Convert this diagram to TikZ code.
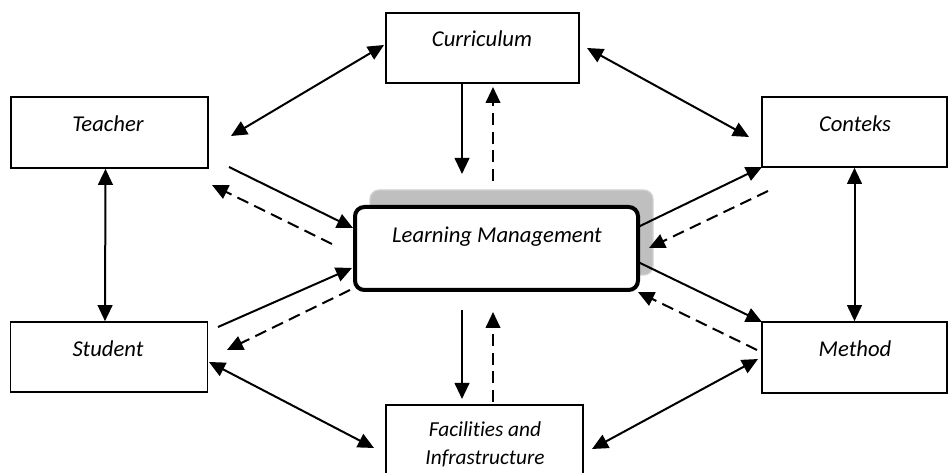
\documentclass[tikz,border=0pt]{standalone}
\usepackage{fontspec}
\setmainfont{Carlito}[Ligatures={NoCommon}]
\usetikzlibrary{arrows.meta}
\tikzset{
  box/.style={draw=black, line width=1.2pt, fill=white, inner sep=0pt},
  lbl/.style={font=\fontsize{17pt}{20pt}\selectfont\itshape, inner sep=0pt},
  conn/.style={line width=1.5pt, -{Triangle[length=12pt,width=11pt]}},
  dconn/.style={line width=1.5pt, {Triangle[length=12pt,width=11pt]}-{Triangle[length=12pt,width=11pt]}},
  dsh/.style={conn, dash pattern=on 9pt off 5pt},
}
\begin{document}
\begin{tikzpicture}[x=0.75pt,y=-0.75pt]
\useasboundingbox (0,0) rectangle (949,473);
\begin{scope}
\clip (0,0) rectangle (949,473);
% boxes
\node[box, minimum width=144.75pt, minimum height=52.5pt] (curr) at (482.5,48) {};
\node[box, minimum width=147.75pt, minimum height=53.25pt] (teach) at (109.5,132.5) {};
\node[box, minimum width=138.75pt, minimum height=52.5pt] (cont) at (854.5,132) {};
\node[box, minimum width=147.75pt, minimum height=52.5pt] (stud) at (109,357) {};
\node[box, minimum width=138.75pt, minimum height=53.25pt] (meth) at (854.5,357.5) {};
\node[box, minimum width=147.75pt, minimum height=55.5pt] (fac) at (484.5,442) {};
% learning management
\node[draw=black!18, fill=black!25, line width=1pt, rounded corners=7pt, minimum width=212.25pt, minimum height=63.75pt] (lmsh) at (511.5,232.5) {};
\node[box, line width=3pt, rounded corners=7pt, minimum width=212.25pt, minimum height=62.25pt] (lm) at (496.5,248.5) {};
% labels
\node[lbl] (currT) at (482,39) {Curriculum};
\node[lbl] (teachT) at (108,124) {Teacher};
\node[lbl] (contT) at (855,124) {Conteks};
\node[lbl] (studT) at (108,349) {Student};
\node[lbl] (methT) at (855,349) {Method};
\node[lbl] (lmT) at (497,237) {Learning Management};
\node[lbl, font=\fontsize{16pt}{21pt}\selectfont\itshape, align=center] (facT) at (485,444) {Facilities and\\Infrastructure};
\end{scope}
% coordinates
\coordinate (c1) at (384,45); \coordinate (c2) at (231,136);
\coordinate (c3) at (587,48); \coordinate (c4) at (749,137);
\coordinate (d1) at (462,83); \coordinate (d2) at (462,174);
\coordinate (d3) at (493,181); \coordinate (d4) at (493,87);
\coordinate (f1) at (462,310); \coordinate (f2) at (462,399);
\coordinate (f3) at (493,402); \coordinate (f4) at (493,312);
\coordinate (t1) at (229,167); \coordinate (t2) at (353,228);
\coordinate (t3) at (332,244); \coordinate (t4) at (212,185);
\coordinate (s1) at (218,327); \coordinate (s2) at (352,268);
\coordinate (s3) at (350,290); \coordinate (s4) at (227,350);
\coordinate (k1) at (638,227); \coordinate (k2) at (762,167);
\coordinate (k3) at (768,191); \coordinate (k4) at (649,248);
\coordinate (m1) at (638,262); \coordinate (m2) at (762,322);
\coordinate (m3) at (757,350); \coordinate (m4) at (638,292);
\coordinate (sf1) at (209,362); \coordinate (sf2) at (374,448);
\coordinate (mf1) at (592,449); \coordinate (mf2) at (758,359);
% connectors
\draw[dconn] (c1) -- (c2);
\draw[dconn] (c3) -- (c4);
\draw[conn] (d1) -- (d2);
\draw[dsh] (d3) -- (d4);
\draw[conn] (f1) -- (f2);
\draw[dsh] (f3) -- (f4);
\draw[conn] (t1) -- (t2);
\draw[dsh] (t3) -- (t4);
\draw[conn] (s1) -- (s2);
\draw[dsh] (s3) -- (s4);
\draw[conn] (k1) -- (k2);
\draw[dsh] (k3) -- (k4);
\draw[conn] (m1) -- (m2);
\draw[dsh] (m3) -- (m4);
\draw[dconn] ([xshift=-3pt]teach.south) -- ([xshift=-3pt]stud.north);
\draw[dconn] (cont.south) -- (meth.north);
\draw[dconn] (sf1) -- (sf2);
\draw[dconn] (mf1) -- (mf2);
\end{tikzpicture}
\end{document}
